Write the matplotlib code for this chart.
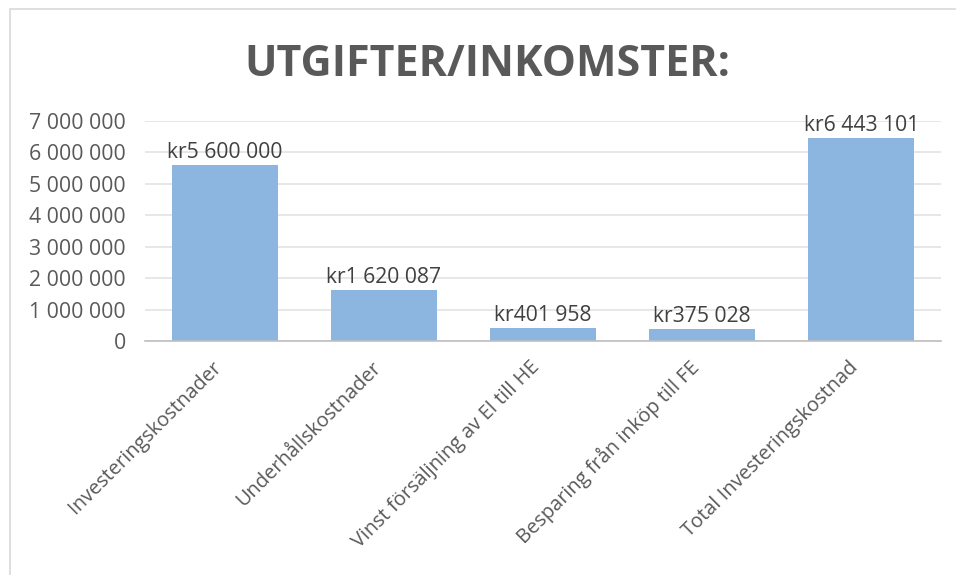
import matplotlib.pyplot as plt
import matplotlib.transforms as mtransforms
from matplotlib.patches import Rectangle
from matplotlib.ticker import FuncFormatter

# Values from the chart
categories = ['Investeringskostnader', 'Underhållskostnader',
              'Vinst försäljning av El till HE', 'Besparing från inköp till FE',
              'Total Investeringskostnad']
values = [5600000, 1620087, 401958, 375028, 6443101]
yticks = [0, 1000000, 2000000, 3000000, 4000000, 5000000, 6000000, 7000000]


def sek(v):
    return '{:,.0f}'.format(v).replace(',', ' ')


plt.rcParams['font.family'] = ['Open Sans', 'DejaVu Sans']

fig = plt.figure(figsize=(9.56, 5.75), dpi=100)
ax = fig.add_axes([0.152, 0.407, 0.832, 0.383])

# chart border (cropped at right/bottom in the original)
fig.patches.append(Rectangle((10 / 956, -0.1), 1.2, 1.1 - 9 / 575,
                             transform=fig.transFigure, fill=False,
                             edgecolor='#d9d9d9', linewidth=1.2))

x = range(len(categories))
bars = ax.bar(x, values, width=0.667, color='#8cb6e0', zorder=2)
for b, v in zip(bars, values):
    ax.text(b.get_x() + b.get_width() / 2, v + 60000, 'kr' + sek(v),
            ha='center', va='bottom', fontsize=15.2, color='#404040')

ax.set_xlim(-0.5, len(categories) - 0.5)
ax.set_ylim(0, 7000000)
ax.set_yticks(yticks)
ax.yaxis.set_major_formatter(FuncFormatter(lambda v, p: sek(v)))
ax.grid(axis='y', color='#e3e3e3', linewidth=1.2, zorder=0)
ax.set_xticks(list(x))
ax.set_xticklabels(categories, rotation=45, ha='right', va='center',
                   rotation_mode='anchor')
ax.tick_params(axis='y', length=0, labelsize=15.3, colors='#595959', pad=14)
ax.tick_params(axis='x', length=0, labelsize=14.4, colors='#595959', pad=17)
shift = mtransforms.ScaledTranslation(-6 / 100, 0, fig.dpi_scale_trans)
for lbl in ax.get_xticklabels():
    lbl.set_transform(lbl.get_transform() + shift)
for s in ['top', 'right', 'left']:
    ax.spines[s].set_visible(False)
ax.spines['bottom'].set_color('#bfbfbf')
ax.spines['bottom'].set_linewidth(1.2)

fig.text(0.51, 0.887, 'UTGIFTER/INKOMSTER:', ha='center', va='center',
         fontsize=31, fontweight='bold', color='#595959')

fig.savefig('out.png', dpi=100)
